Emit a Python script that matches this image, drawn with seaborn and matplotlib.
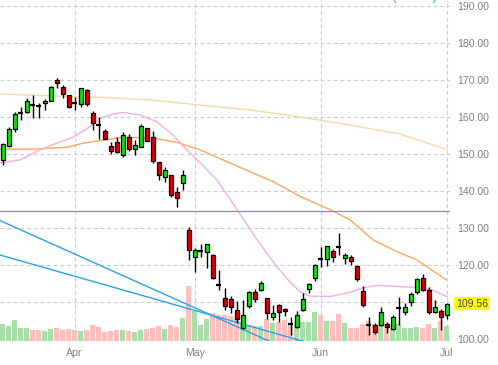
import matplotlib
matplotlib.use("Agg")
import matplotlib.pyplot as plt
import seaborn as sns
import pandas as pd
import numpy as np

sns.set_theme(style="white")
plt.rcParams['font.family'] = ['Liberation Sans', 'DejaVu Sans']

# ---------------- data ----------------
opens = [148.4, 152.2, 156.7, 161.0, 161.4, 163.3, 163.1, 163.7, 164.4, 169.9,
         168.1, 165.9, 163.7, 163.5, 167.2, 161.2, 157.8, 156.2, 152.1, 153.2,
         149.8, 154.7, 151.3, 151.8, 156.9, 154.5, 147.7, 143.7, 144.2, 139.6,
         142.1, 129.5, 122.1, 123.6, 123.4, 122.7, 114.6, 111.0, 110.7, 107.8,
         102.9, 108.9, 112.6, 113.2, 111.0, 106.0, 109.2, 108.1, 104.0, 103.3,
         107.8, 113.4, 116.4, 121.8, 121.5, 123.8, 124.8, 121.8, 122.2, 119.7,
         113.0, 103.8, 103.8, 103.8, 104.0, 102.6, 108.2, 107.2, 110.1, 112.6,
         116.6, 113.2, 107.2, 107.7, 106.5]
highs = [153.0, 157.3, 161.3, 162.8, 165.0, 165.9, 163.8, 164.8, 168.4, 170.5,
         168.5, 166.0, 165.3, 167.9, 167.6, 161.5, 160.1, 156.7, 153.3, 154.5,
         155.8, 155.4, 153.8, 158.1, 157.0, 156.3, 147.8, 146.4, 144.3, 141.2,
         145.7, 130.2, 124.5, 125.7, 125.7, 122.9, 118.6, 113.7, 111.5, 110.3,
         110.5, 113.0, 113.5, 115.8, 111.2, 109.2, 109.5, 108.3, 105.9, 107.6,
         112.3, 115.0, 120.3, 124.9, 125.1, 124.3, 128.6, 123.2, 122.8, 120.0,
         114.2, 106.0, 104.2, 108.7, 104.6, 106.5, 111.4, 109.6, 112.6, 116.6,
         117.6, 114.0, 110.5, 108.0, 109.6]
lows = [147.0, 151.8, 155.8, 159.2, 161.0, 159.6, 159.7, 162.0, 164.2, 167.7,
        165.0, 162.5, 161.9, 162.6, 162.9, 156.5, 154.0, 154.0, 150.0, 150.3,
        149.2, 150.8, 149.8, 151.8, 153.4, 147.5, 143.0, 142.3, 138.3, 135.6,
        140.2, 121.4, 118.0, 122.1, 119.1, 116.2, 113.2, 107.8, 106.9, 104.2,
        102.6, 108.5, 110.0, 113.0, 105.5, 105.0, 104.7, 106.2, 101.1, 103.0,
        107.5, 112.5, 115.7, 119.5, 119.8, 120.9, 122.7, 120.4, 120.0, 115.8,
        108.7, 101.1, 101.3, 103.6, 101.5, 102.4, 103.8, 106.5, 109.0, 112.2,
        113.0, 106.8, 106.9, 102.4, 105.3]
closes = [152.7, 156.7, 160.8, 161.1, 164.3, 163.2, 163.0, 164.3, 168.2, 169.1,
          166.2, 162.6, 163.6, 167.8, 163.6, 158.3, 157.7, 154.1, 150.8, 150.5,
          155.0, 151.3, 152.3, 157.6, 153.6, 148.0, 144.2, 145.7, 139.0, 138.0,
          144.2, 124.1, 124.0, 123.7, 125.7, 116.4, 114.5, 108.9, 108.6, 105.3,
          106.6, 112.6, 110.7, 115.2, 106.9, 106.9, 107.4, 107.6, 103.9, 106.5,
          110.7, 114.8, 119.9, 121.7, 125.1, 122.1, 124.7, 122.7, 121.1, 116.1,
          109.2, 103.7, 102.0, 107.2, 103.3, 105.9, 108.3, 108.6, 112.1, 116.1,
          113.2, 107.2, 108.6, 106.0, 109.56]
volume_m = [86, 75, 105, 65, 65, 55, 55, 50, 60, 65,
            55, 60, 55, 50, 55, 80, 70, 45, 50, 55,
            55, 50, 45, 55, 60, 65, 75, 60, 80, 70,
            115, 275, 150, 80, 110, 140, 130, 130, 125, 115,
            95, 80, 75, 75, 110, 90, 95, 105, 80, 95,
            95, 95, 145, 130, 100, 100, 135, 90, 65, 65,
            85, 100, 85, 100, 85, 65, 85, 65, 65, 70,
            65, 85, 65, 100, 75]

month_labels = ["Apr", "May", "Jun", "Jul"]
month_pos = [12, 32, 53, 74]

ma_fast_x = [-0.45, 2.9, 6.2, 9.6, 11.7, 14.1, 16.2, 18.4, 20.1, 22.9, 25.7, 28.4,
             30.7, 32.9, 35.7, 39.1, 42.4, 45.7, 47.9, 49.6, 51.2, 54.5, 57.9,
             59.9, 62.4, 65.7, 69.1, 71.7, 74.1]
ma_fast_y = [147.6, 148.4, 151.1, 153.3, 154.5, 156.9, 159.6, 160.8, 161.2, 160.5,
             158.7, 155.1, 151.1, 147.6, 143.0, 134.9, 126.8, 119.5, 115.4, 112.7,
             111.6, 111.5, 112.6, 113.8, 114.5, 114.2, 113.9, 113.2, 111.4]
ma_mid_x = [-0.45, 5.1, 10.7, 13.4, 16.2, 20.1, 22.9, 25.7, 29.1, 32.9, 36.7, 41.2,
            45.1, 49.6, 54.6, 57.9, 61.7, 65.7, 69.0, 74.0]
ma_mid_y = [151.3, 151.3, 151.8, 152.9, 153.6, 154.5, 154.4, 154.1, 153.1, 151.1,
            148.4, 145.2, 142.5, 138.5, 134.9, 132.2, 126.8, 123.6, 121.4, 115.9]
ma_slow_x = [-0.45, 7.9, 16.2, 24.6, 32.9, 41.2, 49.6, 57.9, 66.2, 74.2]
ma_slow_y = [166.2, 165.7, 165.3, 164.6, 163.2, 161.9, 160.0, 157.8, 155.4, 151.1]

trend_a_x = [-0.45, 45.0]
trend_a_y = [132.0, 99.0]
trend_b_x = [-0.45, 52.0]
trend_b_y = [122.7, 98.5]
level_line = 134.5

price_ticks = [100, 110, 120, 130, 140, 150, 160, 170, 180, 190]
hidden_tick = 110
last_price = 109.56

# ---------------- figure ----------------
W, H = 498, 365
fig = plt.figure(figsize=(W / 100, H / 100), dpi=100)
fig.patch.set_facecolor("white")
rect = [0, 24 / H, 450 / W, 341 / H]

ax_grid = fig.add_axes(rect)
ax_vol = ax_grid.twinx()
ax_price = fig.add_axes(rect, sharex=ax_grid, sharey=ax_grid)
ax_price.patch.set_visible(False)
ax_vol.set_zorder(1)
ax_price.set_zorder(2)

x = np.arange(len(closes))
o = np.array(opens); c = np.array(closes); h = np.array(highs); l = np.array(lows)
up = c >= o

# volume (middle layer)
vol_df = pd.DataFrame({"day": x, "vol": volume_m,
                       "dir": np.where(up, "up", "down")})
sns.barplot(data=vol_df, x="day", y="vol", hue="dir", native_scale=True,
            dodge=False, width=0.84, palette={"up": "#a8dea8", "down": "#ffbfbf"},
            saturation=1, linewidth=0, errorbar=None, legend=False, ax=ax_vol)
ax_vol.set_ylim(0, 1705)
ax_vol.set_axis_off()

# moving averages
sns.lineplot(x=ma_slow_x, y=ma_slow_y, ax=ax_price, color="#f7d9a4", lw=1.0, sort=False)
sns.lineplot(x=ma_mid_x, y=ma_mid_y, ax=ax_price, color="#ffa45e", lw=1.0, sort=False)
sns.lineplot(x=ma_fast_x, y=ma_fast_y, ax=ax_price, color="#f0aee6", lw=1.0, sort=False)

# level and trend lines
ax_price.axhline(level_line, color="#8a8ac6", lw=0.9)
sns.lineplot(x=trend_a_x, y=trend_a_y, ax=ax_price, color="#2aa2e6", lw=1.0, sort=False)
sns.lineplot(x=trend_b_x, y=trend_b_y, ax=ax_price, color="#2aa2e6", lw=1.0, sort=False)

# candles
ax_price.vlines(x, l, h, color="black", lw=1.0, zorder=3)
doji = np.abs(c - o) < 0.2
body_x = x[~doji]
ax_price.bar(body_x, np.abs(c - o)[~doji], bottom=np.minimum(o, c)[~doji], width=0.72,
             color=np.where(up[~doji], "#14e014", "#e00000"), edgecolor="black",
             linewidth=0.9, zorder=4)
ax_price.hlines(((o + c) / 2)[doji], x[doji] - 0.4, x[doji] + 0.4, color="black",
                lw=1.6, zorder=4)

# axes, grid, labels
ax_grid.set_xlim(-0.45, 74.55)
ax_grid.set_ylim(99.46, 191.6)
ax_grid.set_xticks(month_pos)
ax_grid.set_xticklabels(month_labels)
ax_grid.set_yticks(price_ticks)
ax_grid.set_yticklabels(["" if t == hidden_tick else f"{t:.2f}" for t in price_ticks])
ax_grid.yaxis.tick_right()
ax_grid.tick_params(axis="both", length=0, labelsize=7.6, colors="#808080")
ax_grid.tick_params(axis="y", pad=5)
ax_grid.tick_params(axis="x", pad=5)
ax_grid.grid(True, linestyle=(0, (3.5, 2.5)), color="#cccccc", lw=0.8)
for a in (ax_grid, ax_price):
    for s in a.spines.values():
        s.set_visible(False)
    a.set_xlabel("")
    a.set_ylabel("")
ax_price.tick_params(left=False, right=False, bottom=False, labelleft=False,
                     labelright=False, labelbottom=False)

# last price tag
ax_grid.text(1.0 + 6.0 / 450, last_price, f"{last_price:.2f}",
             transform=ax_grid.get_yaxis_transform(), ha="left", va="center",
             fontsize=7.6, color="#444444",
             bbox=dict(facecolor="#ffff00", edgecolor="none", pad=1.2))

# legend text at the top, clipped by the figure edge as in the reference
fig.text(392 / W, 1 - 2.7 / H, "(", color="#2fae2f", fontsize=7.6, va="bottom")
fig.text(433 / W, 1 - 2.7 / H, ")", color="#2fae2f", fontsize=7.6, va="bottom")

fig.savefig("out.png", dpi=100)
